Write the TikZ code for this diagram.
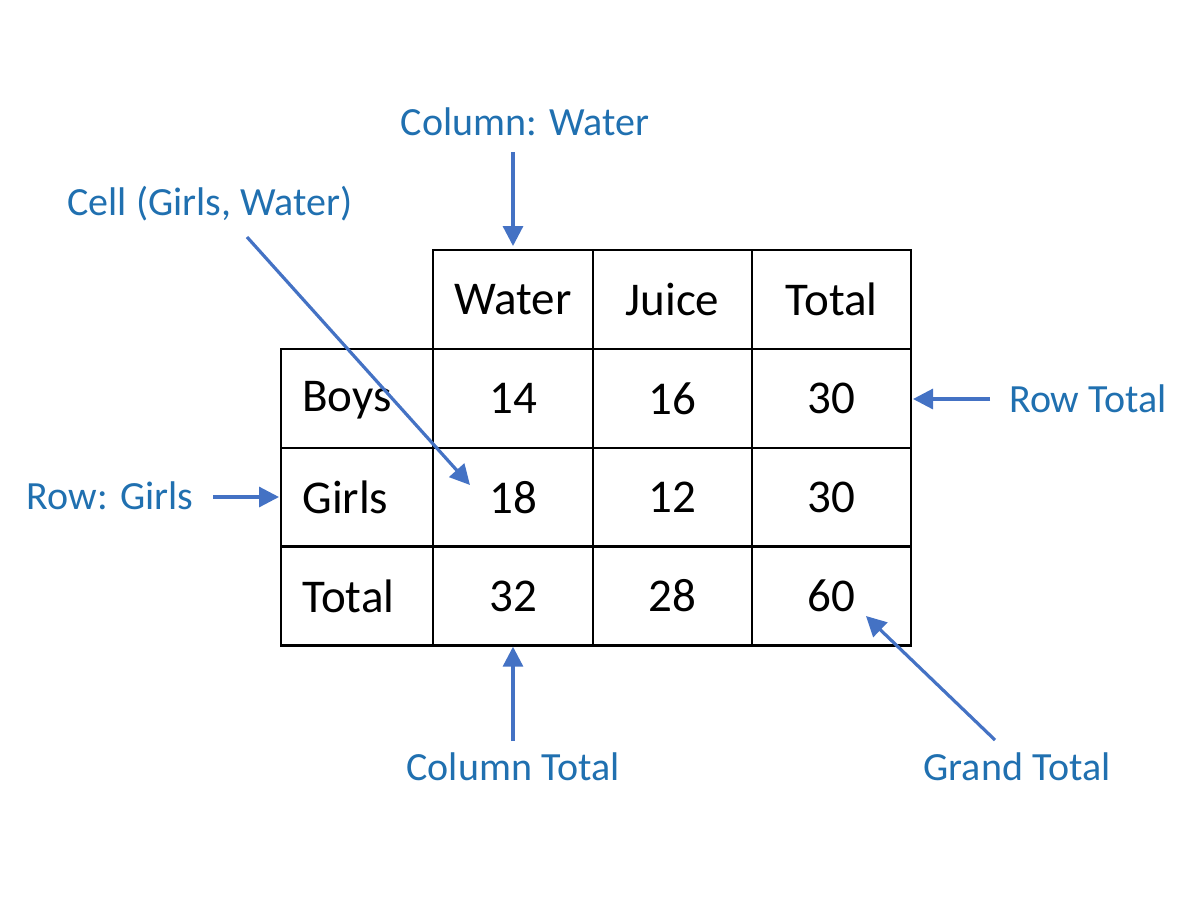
\documentclass[tikz,border=0pt]{standalone}
\usepackage{fontspec}
\setmainfont{Carlito}
\usetikzlibrary{arrows.meta}
\definecolor{labelblue}{HTML}{2070B0}
\definecolor{arrowblue}{HTML}{4472C4}
\tikzset{
  cell/.style={draw,line width=1.2pt,minimum height=49.5pt,inner sep=0pt,font=\fontsize{23.5}{28}\selectfont},
  note/.style={text=labelblue,font=\fontsize{20}{24}\selectfont,inner sep=1pt},
  pointer/.style={draw=arrowblue,line width=1.6pt,-{Triangle[length=10pt,width=10pt]}}
}
\begin{document}
\begin{tikzpicture}[x=0.5pt,y=-0.5pt]
  \useasboundingbox (0,0) rectangle (1200,896);
  % header row
  \node[cell,minimum width=80pt] (hw) at (513,299.5) {Water};
  \node[cell,minimum width=79.5pt] (hj) at (672.5,299.5) {Juice};
  \node[cell,minimum width=79.5pt] (ht) at (831.5,299.5) {Total};
  % row labels
  \node[cell,minimum width=76pt] (rb) at (357,398.5) {};
  \node[cell,minimum width=76pt] (rg) at (357,497.5) {};
  \node[cell,minimum width=76pt] (rt) at (357,596) {};
  \node[anchor=west,inner sep=0pt,font=\fontsize{23.5}{28}\selectfont] at (302,400) {Boys};
  \node[anchor=west,inner sep=0pt,font=\fontsize{23.5}{28}\selectfont] at (302,497.5) {Girls};
  \node[anchor=west,inner sep=0pt,font=\fontsize{23.5}{28}\selectfont] at (302,596) {Total};
  % body
  \node[cell,minimum width=80pt] (bw) at (513,398.5) {14};
  \node[cell,minimum width=79.5pt] (bj) at (672.5,398.5) {16};
  \node[cell,minimum width=79.5pt] (bt) at (831.5,398.5) {30};
  \node[cell,minimum width=80pt] (gw) at (513,497.5) {18};
  \node[cell,minimum width=79.5pt] (gj) at (672.5,497.5) {12};
  \node[cell,minimum width=79.5pt] (gt) at (831.5,497.5) {30};
  \node[cell,minimum width=80pt] (tw) at (513,596) {32};
  \node[cell,minimum width=79.5pt] (tj) at (672.5,596) {28};
  \node[cell,minimum width=79.5pt] (tt) at (831.5,596) {60};
  % notes
  \node[note] (colwater) at (525,122) {Column: Water};
  \node[note] (cellgw) at (210,204) {Cell (Girls, Water)};
  \node[note] (rowtotal) at (1088,399) {Row Total};
  \node[note] (rowgirls) at (110,496) {Row: Girls};
  \node[note] (coltotal) at (513,767) {Column Total};
  \node[note] (grand) at (1017,767) {Grand Total};
  \coordinate (cellgwstart) at (247,237);
  \coordinate (cellgwend) at (470,485);
  \coordinate (grandstart) at (995,740);
  \coordinate (grandend) at (866,616);
  \coordinate (rowtotalstart) at (990,399);
  \coordinate (rowtotalend) at (913,399);
  \coordinate (rowgirlsstart) at (213,497);
  \coordinate (rowgirlsend) at (279,497);
  % pointers
  \draw[pointer] (513,152) -- (513,246);
  \draw[pointer] (cellgwstart) -- (cellgwend);
  \draw[pointer] (rowtotalstart) -- (rowtotalend);
  \draw[pointer] (rowgirlsstart) -- (rowgirlsend);
  \draw[pointer] (513,741) -- (tw.south);
  \draw[pointer] (grandstart) -- (grandend);
\end{tikzpicture}
\end{document}
